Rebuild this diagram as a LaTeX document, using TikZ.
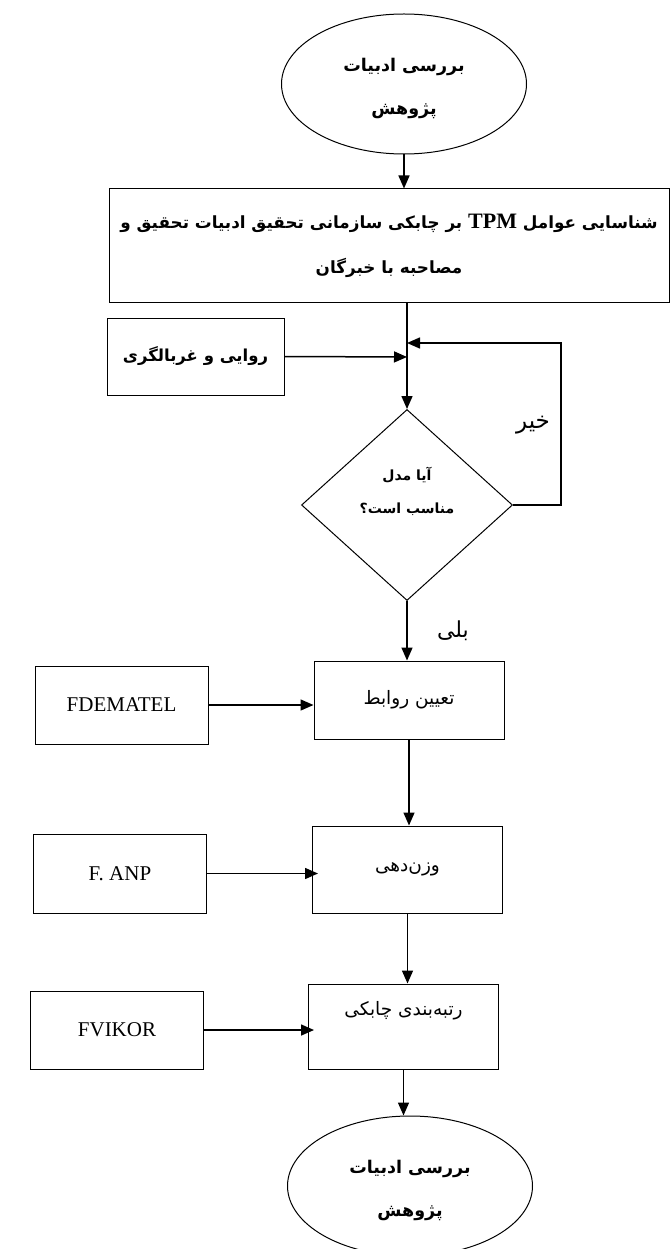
\documentclass[tikz,border=0pt]{standalone}
\usepackage{fontspec}
\setmainfont{Liberation Serif}
\newfontfamily\fa[Script=Arabic]{DejaVu Sans}
\TeXXeTstate=1
\usetikzlibrary{arrows.meta,positioning,shapes.geometric}
\newcommand{\rl}[1]{\beginR #1\endR}

\begin{document}
\begin{tikzpicture}[x=1pt,y=-1pt,
  box/.style={draw,line width=1pt,align=center,inner sep=0pt},
  term/.style={box,ellipse,minimum width=245pt,minimum height=140pt,text height=66pt,font=\fa\bfseries\fontsize{17.5}{43}\selectfont},
  step box/.style={box,minimum width=190pt,font=\fa\fontsize{18.5}{20}\selectfont},
  tool/.style={box,minimum width=173pt,font=\fontsize{21}{24}\selectfont},
  arr/.style={-{Triangle[length=13pt,width=11pt]},line width=1.5pt}
]
  \useasboundingbox (0,0) rectangle (670,1249);
  % main column
  \node[term] (start) at (404,84) {\rl{بررسی ادبیات}\\\rl{پژوهش}};
  \node[box,minimum width=560pt,minimum height=113pt,font=\fa\bfseries\fontsize{16.8}{45}\selectfont] (ident) at (389,245.5)
    {\rl{شناسایی عوامل \beginL{\rmfamily\bfseries\fontsize{22}{24}\selectfont TPM}\endL{} بر چابکی سازمانی  تحقیق ادبیات تحقیق و}\\\rl{مصاحبه با خبرگان}};
  \node[box,minimum width=177pt,minimum height=77pt,font=\fa\bfseries\fontsize{16.5}{20}\selectfont] (valid) at (195.5,356.5) {\rl{روایی و غربالگری}};
  \node[box,diamond,minimum width=211pt,minimum height=191pt,text depth=30pt,font=\fa\bfseries\fontsize{14}{33}\selectfont] (fit) at (407,505)
    {\rl{آیا مدل}\\\rl{مناسب  است؟}};
  \node[step box,minimum height=78pt] (rel) at (409,700) {\rl{تعیین روابط}};
  \node[step box,minimum height=87pt] (wgt) at (407.5,869.5) {\rl{وزن‌دهی}};
  \node[step box,text height=31pt,text depth=54pt] (rank) at (403.5,1026.5) {\rl{رتبه‌بندی چابکی}};
  \node[term] (stop) at (410,1186) {\rl{بررسی ادبیات}\\\rl{پژوهش}};
  % methods on the left
  \node[tool,minimum height=78pt,left=105pt of rel,yshift=-5pt] (fdem) {FDEMATEL};
  \node[tool,minimum height=79pt,left=105pt of wgt,yshift=-4pt] (fanp) {F. ANP};
  \node[tool,minimum height=78pt,left=104pt of rank,yshift=-3.5pt] (fvik) {FVIKOR};
  % labels
  \node[font=\fa\fontsize{23}{24}\selectfont] (no) at (533,425) {\rl{خیر}};
  \node[font=\fa\fontsize{22}{24}\selectfont] (yes) at (453,631) {\rl{بلی}};
  % connectors
  \coordinate (join) at (407,357);
  \coordinate (back) at (407,343);
  \coordinate (loop) at (561,343);
  \draw[arr] (start.south) -- (start.south |- ident.north);
  \draw[arr] (fit.north |- ident.south) -- (fit.north);
  \draw[arr] (valid.east) -- (join);
  \draw[arr] (fit.east) -| (loop) -- (back);
  \draw[arr] (fit.south) -- (fit.south |- rel.north);
  \draw[arr] (rel.south) -- (rel.south |- wgt.north);
  \draw[arr] (wgt.south) -- (wgt.south |- rank.north);
  \draw[arr] (rank.south) -- (rank.south |- stop.north);
  \draw[arr] (fdem.east) -- (fdem.east -| rel.west);
  \draw[arr,shorten >=-6pt] (fanp.east) -- (fanp.east -| wgt.west);
  \draw[arr,shorten >=-6pt] (fvik.east) -- (fvik.east -| rank.west);
\end{tikzpicture}
\end{document}
